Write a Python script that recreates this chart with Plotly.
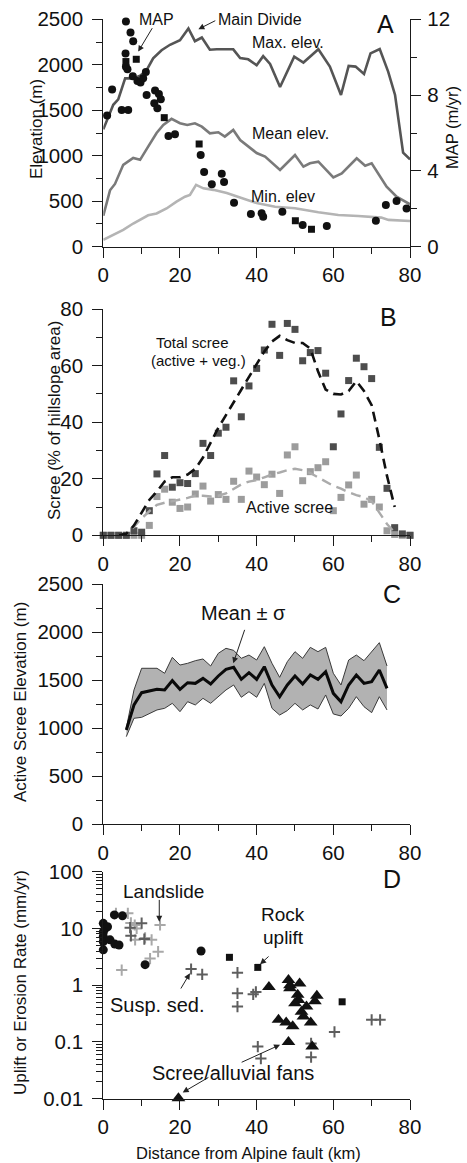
import plotly.graph_objects as go

FONT = "Liberation Sans, Arial, sans-serif"
W, H = 467, 1163

# ---------------- Panel A : elevation swath + MAP ----------------
max_x = [0, 2.6, 3.9, 5.7, 7.8, 9.6, 11.3, 13, 15.2, 17.4, 20, 22.2, 23.9, 25.7, 27.8, 29.6, 33.9, 35.7, 37.8,
         40, 41.7, 43.5, 46.1, 49.8, 52.2, 56.1, 59.1, 62, 64, 65.8, 68, 69.7, 72.1, 74.3, 76.1, 78.2, 80]
max_elev = [1290, 1560, 1620, 1850, 1850, 1880, 1940, 2070, 2160, 2220, 2270, 2400, 2260, 2300, 2165, 2170, 2170,
            2075, 2060, 1995, 2095, 2010, 1755, 2090, 2025, 2170, 1980, 1668, 1987, 1980, 1898, 2125, 2172, 1925,
            1668, 1035, 960]
mean_x = [0, 1.75, 3.05, 5.2, 7.8, 9.6, 11.7, 13.9, 15.65, 17.8, 20, 21.9, 23.9, 25.7, 27.8, 30, 31.7, 33.9, 35.7,
          37.8, 40, 42.2, 46.1, 50, 52.2, 53.9, 56.1, 60, 62.2, 66.1, 68.3, 70, 73.9, 76.5, 80]
mean_elev = [340, 620, 690, 900, 975, 955, 1100, 1250, 1338, 1405, 1357, 1338, 1357, 1320, 1247, 1258, 1210, 1283,
             1173, 1100, 1030, 990, 843, 1008, 880, 917, 935, 763, 807, 972, 891, 917, 660, 550, 466]
min_x = [0, 2.6, 5.2, 7.8, 10, 11.7, 13.9, 16.5, 19.1, 21.3, 22.6, 24.2, 26.1, 28.7, 32.2, 35.7, 40, 44.8, 50, 56.1,
         61.3, 66.5, 70, 72.5, 74.4, 80]
min_elev = [75, 130, 185, 255, 310, 345, 365, 420, 495, 550, 570, 680, 642, 625, 590, 540, 480, 440, 422, 378, 348,
            337, 323, 320, 295, 283]
map_circ_x = [5.9, 7.1, 7.8, 5.8, 5.9, 6.3, 7.7, 8.9, 9.7, 10.4, 11.1, 2.3, 1.0, 4.8, 6.5, 11.3, 13.5, 14.5, 15.0,
              13.3, 14.1, 17.0, 18.7, 25.4, 26.3, 28.3, 30.9, 31.5, 34.1, 38.5, 41.3, 41.7, 46.7, 52.0, 58.3, 71.1,
              73.7, 76.5, 79.1]
map_circ = [11.88, 11.31, 10.84, 10.2, 9.5, 9.36, 9.0, 8.75, 8.66, 8.89, 9.22, 8.3, 6.92, 7.21, 7.21, 8.0, 8.24,
            8.06, 7.78, 7.57, 7.3, 5.84, 5.93, 4.84, 3.94, 3.29, 3.85, 3.41, 2.32, 1.72, 1.76, 1.58, 1.85, 1.14, 1.09,
            1.37, 2.2, 2.41, 2.02]
map_sq_x = [5.9, 8.6, 15.9, 25.0, 50.1, 54.3]
map_sq = [9.77, 9.89, 6.81, 5.42, 1.37, 0.92]

# ---------------- Panel B : scree cover ----------------
scree_x = [0, 2, 4, 6, 8, 10, 12, 14, 16, 18, 20, 22, 24, 26, 28, 30, 32, 34, 36, 38, 40, 42, 44, 46, 48, 50, 52,
           54, 56, 58, 60, 62, 64, 66, 68, 70, 72, 74, 76, 78, 80]
total_scree = [0, 0, 0, 0, 1.6, 1.1, 8.7, 21.7, 28.2, 17.0, 18.6, 18.3, 21.8, 32.5, 28.2, 36.1, 38.2, 54.6, 41.9,
               52.8, 59.0, 65.5, 74.6, 63.6, 74.9, 72.8, 61.7, 64.6, 65.3, 57.3, 31.3, 42.9, 54.7, 62.6, 59.6, 55.4,
               31.1, 16.6, 2.7, 0.5, 0]
active_scree = [0, 0, 0, 0, 0, 0, 3.5, 13.7, 16.3, 11.7, 9.5, 10.0, 14.6, 17.4, 12.1, 14.4, 12.7, 19.1, 12.7, 22.7,
                20.6, 17.9, 21.6, 14.8, 28.4, 31.3, 19.3, 22.5, 23.9, 26.0, 8.7, 13.4, 17.8, 21.3, 11.0, 12.7, 10.0,
                1.6, 0.3, 0, 0]
smooth_x = [4, 6, 8, 10, 12, 14, 16, 18, 20, 22, 24, 26, 28, 30, 32, 34, 36, 38, 40, 42, 44, 46, 48, 50, 52, 54,
            56, 58, 60, 62, 64, 66, 68, 70, 72, 74, 76]
total_smooth = [0.1, 0.5, 3.5, 8, 12.5, 15.5, 19, 20.5, 20.5, 21.5, 23.5, 27.5, 33, 38, 42.5, 47, 51, 56, 60.5, 65,
                68.5, 70.5, 69, 68, 68, 66, 58, 51.5, 50, 49.8, 51, 54.5, 51, 46, 34, 21, 10]
active_smooth = [0, 0.5, 3, 6, 8.5, 10.8, 11.5, 12, 12.5, 13.2, 14, 14, 13.7, 14, 14.8, 16.5, 18, 19, 19.5, 20.5,
                 21.5, 22.2, 23, 23.5, 23, 22, 20.5, 19, 17.5, 16.5, 15.2, 14.2, 13.5, 12, 8, 4, 1]

# ---------------- Panel C : active scree elevation ----------------
c_x = [6, 8, 10, 12, 14, 16, 18, 20, 22, 24, 26, 28, 30, 32, 34, 36, 38, 40, 42, 44, 46, 48, 50, 52, 54, 56, 58,
       60, 62, 64, 66, 68, 70, 72, 74]
c_mean = [979, 1240, 1368, 1385, 1403, 1396, 1493, 1403, 1472, 1465, 1517, 1458, 1542, 1611, 1632, 1507, 1576, 1507,
          1639, 1448, 1326, 1448, 1542, 1458, 1552, 1507, 1587, 1361, 1274, 1448, 1552, 1465, 1483, 1604, 1413]
c_upper = [1000, 1396, 1622, 1622, 1622, 1570, 1736, 1656, 1674, 1701, 1719, 1646, 1778, 1830, 1809, 1726, 1760,
           1708, 1847, 1674, 1528, 1691, 1795, 1726, 1840, 1795, 1840, 1570, 1448, 1708, 1760, 1701, 1795, 1889, 1646]
c_lower = [910, 1101, 1111, 1146, 1188, 1205, 1257, 1170, 1274, 1240, 1309, 1257, 1326, 1396, 1448, 1320, 1378, 1320,
           1465, 1205, 1135, 1181, 1257, 1188, 1240, 1198, 1344, 1146, 1125, 1205, 1326, 1222, 1160, 1326, 1188]

# ---------------- Panel D : rates ----------------
d_circ_x = [0, 0.45, 1.1, 0, 0, 0, 0, 1.75, 3.0, 4.1, 2.9, 5.0, 10.9, 25.5]
d_circ = [12.3, 10, 10.7, 8.7, 7.2, 5.9, 4.2, 6.3, 5.3, 5.1, 17.3, 16.7, 2.3, 4.0]
d_sq_x = [32.9, 40.3, 62.3]
d_sq = [3.1, 2.06, 0.51]
d_land_x = [3.3, 6.4, 7.2, 8.2, 8.7, 8.3, 10.9, 12.6, 14.3, 14.8, 4.8, 12.2]
d_land = [18.5, 18.5, 12.5, 11.5, 10, 6.3, 6.8, 6.3, 3.9, 11.5, 1.85, 2.95]
d_sed_x = [7.0, 10.0, 7.2, 10.7, 22.9, 25.8, 35.0, 35.0, 35.0, 39.1, 39.8, 40.3, 41.1, 54.2, 54.2, 60.3, 70.0, 72.2]
d_sed = [10.3, 12.4, 7.4, 6.5, 1.93, 1.55, 1.66, 0.72, 0.42, 0.69, 0.76, 0.083, 0.051, 0.054, 0.094, 0.15, 0.245,
         0.245]
d_tri_x = [19.6, 43.2, 48.3, 48.7, 48.7, 51.2, 50.7, 50.9, 50.0, 55.7, 55.2, 53.0, 51.7, 52.2, 45.7, 47.7, 49.4,
           54.1, 48.3, 54.5]
d_tri = [0.0102, 0.93, 1.23, 1.0, 0.88, 1.07, 0.68, 0.55, 0.48, 0.65, 0.52, 0.42, 0.34, 0.28, 0.245, 0.22, 0.19,
         0.22, 0.1, 0.083]

# tick labels
elev_ticks = [0, 500, 1000, 1500, 2000, 2500]
elev_minor = [250, 750, 1250, 1750, 2250]
map_ticks = [0, 4, 8, 12]
map_minor = [2, 6, 10]
scree_ticks = [0, 20, 40, 60, 80]
scree_minor = [10, 30, 50, 70]
dist_ticks = [0, 20, 40, 60, 80]
dist_minor = [10, 30, 50, 70]
rate_ticks = [0.01, 0.1, 1, 10, 100]
rate_labels = ["0.01", "0.1", "1", "10", "100"]
rate_minor = [m * d for d in (0.01, 0.1, 1, 10) for m in range(2, 10)]

AX = "#1a1a1a"


def px_y(py):
    return 1 - py / H


def px_x(px):
    return px / W


XDOM = [px_x(103.3), px_x(410)]
DOM_A = [px_y(246.7), px_y(19.3)]
DOM_B = [px_y(535.3), px_y(309)]
DOM_C = [px_y(824), px_y(584)]
DOM_D = [px_y(1098.7), px_y(871.7)]

fig = go.Figure()

# Panel A
fig.add_trace(go.Scatter(x=min_x, y=min_elev, mode="lines", line=dict(color="#b4b4b4", width=2.6),
                         xaxis="x", yaxis="y"))
fig.add_trace(go.Scatter(x=mean_x, y=mean_elev, mode="lines", line=dict(color="#7a7a7a", width=2.6),
                         xaxis="x", yaxis="y"))
fig.add_trace(go.Scatter(x=max_x, y=max_elev, mode="lines", line=dict(color="#555555", width=2.6),
                         xaxis="x", yaxis="y"))
fig.add_trace(go.Scatter(x=map_circ_x, y=map_circ, mode="markers", cliponaxis=False,
                         marker=dict(symbol="circle", size=8, color="#111111"), xaxis="x", yaxis="y5"))
fig.add_trace(go.Scatter(x=map_sq_x, y=map_sq, mode="markers", cliponaxis=False,
                         marker=dict(symbol="square", size=7, color="#111111"), xaxis="x", yaxis="y5"))

# Panel B
fig.add_trace(go.Scatter(x=scree_x, y=active_scree, mode="markers", cliponaxis=False,
                         marker=dict(symbol="square", size=7, color="#9c9c9c"), xaxis="x2", yaxis="y2"))
fig.add_trace(go.Scatter(x=scree_x, y=total_scree, mode="markers", cliponaxis=False,
                         marker=dict(symbol="square", size=7, color="#4d4d4d"), xaxis="x2", yaxis="y2"))
fig.add_trace(go.Scatter(x=smooth_x, y=active_smooth, mode="lines", line=dict(color="#ababab", width=2.4,
                         dash="10px,6px"), xaxis="x2", yaxis="y2"))
fig.add_trace(go.Scatter(x=smooth_x, y=total_smooth, mode="lines", line=dict(color="#111111", width=2.6,
                         dash="10px,6px"), xaxis="x2", yaxis="y2"))

# Panel C
fig.add_trace(go.Scatter(x=c_x, y=c_lower, mode="lines", line=dict(color="#3a3a3a", width=1),
                         xaxis="x3", yaxis="y3"))
fig.add_trace(go.Scatter(x=c_x, y=c_upper, mode="lines", line=dict(color="#3a3a3a", width=1), fill="tonexty",
                         fillcolor="#b2b2b2", xaxis="x3", yaxis="y3"))
fig.add_trace(go.Scatter(x=c_x, y=c_mean, mode="lines", line=dict(color="#0a0a0a", width=3),
                         xaxis="x3", yaxis="y3"))

# Panel D
fig.add_trace(go.Scatter(x=d_land_x, y=d_land, mode="markers", cliponaxis=False,
                         marker=dict(symbol="cross-thin", size=8, color="#a8a8a8",
                                     line=dict(width=2, color="#a8a8a8")), xaxis="x4", yaxis="y4"))
fig.add_trace(go.Scatter(x=d_sed_x, y=d_sed, mode="markers", cliponaxis=False,
                         marker=dict(symbol="cross-thin", size=8, color="#5e5e5e",
                                     line=dict(width=2, color="#5e5e5e")), xaxis="x4", yaxis="y4"))
fig.add_trace(go.Scatter(x=d_circ_x, y=d_circ, mode="markers", cliponaxis=False,
                         marker=dict(symbol="circle", size=9, color="#111111"), xaxis="x4", yaxis="y4"))
fig.add_trace(go.Scatter(x=d_sq_x, y=d_sq, mode="markers", cliponaxis=False,
                         marker=dict(symbol="square", size=7, color="#111111"), xaxis="x4", yaxis="y4"))
fig.add_trace(go.Scatter(x=d_tri_x, y=d_tri, mode="markers", cliponaxis=False,
                         marker=dict(symbol="triangle-up", size=12, color="#111111"), xaxis="x4", yaxis="y4"))

TICKFONT = dict(family=FONT, size=20.5, color="#111")


def minor(vals):
    return dict(tickmode="array", tickvals=vals, ticks="outside", ticklen=6, tickwidth=1.2, tickcolor=AX,
                showgrid=False)


def xaxis_(**kw):
    base = dict(showline=True, linecolor=AX, linewidth=1.3, ticks="outside", ticklen=10, tickwidth=1.3,
                tickcolor=AX, showgrid=False, zeroline=False, tickfont=TICKFONT,
                tickmode="array", ticklabelstandoff=0, range=[0, 80], tickvals=dist_ticks,
                minor=minor(dist_minor))
    base.update(kw)
    return base


def yaxis_(**kw):
    base = dict(showline=True, linecolor=AX, linewidth=1.3, ticks="outside", ticklen=10, tickwidth=1.3,
                tickcolor=AX, showgrid=False, zeroline=False, tickfont=TICKFONT,
                tickmode="array", ticklabelstandoff=5)
    base.update(kw)
    return base


fig.update_layout(
    width=W, height=H, margin=dict(l=0, r=0, t=0, b=0, autoexpand=False),
    paper_bgcolor="white", plot_bgcolor="white", showlegend=False,
    font=dict(family=FONT, color="#111"),
    xaxis=xaxis_(domain=XDOM, anchor="y"),
    yaxis=yaxis_(domain=DOM_A, anchor="x", range=[0, 2500], tickvals=elev_ticks, minor=minor(elev_minor)),
    yaxis5=yaxis_(overlaying="y", side="right", anchor="x", range=[0, 12], tickvals=map_ticks,
                  minor=minor(map_minor), ticklabelstandoff=2),
    xaxis2=xaxis_(domain=XDOM, anchor="y2"),
    yaxis2=yaxis_(domain=DOM_B, anchor="x2", range=[0, 80], tickvals=scree_ticks, minor=minor(scree_minor)),
    xaxis3=xaxis_(domain=XDOM, anchor="y3"),
    yaxis3=yaxis_(domain=DOM_C, anchor="x3", range=[0, 2500], tickvals=elev_ticks, minor=minor(elev_minor)),
    xaxis4=xaxis_(domain=XDOM, anchor="y4"),
    yaxis4=yaxis_(domain=DOM_D, anchor="x4", type="log", range=[-2, 2], tickvals=rate_ticks,
                  ticktext=rate_labels, minor=minor(rate_minor)),
)

ann = []


def text(px, py, s, size=16, **kw):
    d = dict(x=px_x(px), y=px_y(py), xref="paper", yref="paper", text=s, showarrow=False,
             font=dict(family=FONT, size=size, color="#111"), xanchor="center", yanchor="middle")
    d.update(kw)
    ann.append(d)


def arrow(xr, yr, x0, y0, x1, y1):
    ann.append(dict(x=x1, y=y1, ax=x0, ay=y0, xref=xr, yref=yr, axref=xr, ayref=yr, text="", showarrow=True,
                    arrowhead=2, arrowsize=1.2, arrowwidth=1, arrowcolor="#222"))


# axis titles
text(36, 129, "Elevation (m)", 17, textangle=-90)
text(452, 128, "MAP (m/yr)", 16.5, textangle=-90)
text(54, 421, "Scree (% of hillslope area)", 17, textangle=-90)
text(20, 702, "Active Scree Elevation (m)", 17, textangle=-90)
text(20, 983, "Uplift or Erosion Rate (mm/yr)", 17, textangle=-90)
text(248, 1153, "Distance from Alpine fault (km)", 16.5)

# panel letters
text(385, 24, "A", 25)
text(388, 317, "B", 25)
text(392, 594, "C", 25)
text(392, 879, "D", 25)

# panel A labels
text(156, 20, "MAP", 16)
arrow("x", "y", 13.0, 2419, 9.1, 2145)
text(260, 20, "Main Divide", 16)
arrow("x", "y", 29.6, 2493, 24.8, 2391)
text(288, 43, "Max. elev.", 16)
text(290, 133, "Mean elev.", 16)
text(283, 197, "Min. elev", 16)

# panel B labels
text(192, 342, "Total scree", 15)
text(198, 361, "(active + veg.)", 15)
text(289, 507, "Active scree", 16)

# panel C labels
text(244, 613, "Mean \u00b1 \u03c3", 20)
arrow("x3", "y3", 37.0, 2038, 33.9, 1674)

# panel D labels
text(163, 891, "Landslide", 19)
arrow("x4", "y4", 14.6, 1.53, 14.6, 1.12)
text(283, 914, "Rock", 19)
text(283, 937, "uplift", 19)
arrow("x4", "y4", 43.5, 0.53, 40.9, 0.37)
text(157, 1005, "Susp. sed.", 20)
arrow("x4", "y4", 20.0, -0.085, 22.6, 0.21)
text(233, 1073, "Scree/alluvial fans", 20)
arrow("x4", "y4", 35.7, -1.37, 46.1, -1.05)
arrow("x4", "y4", 27.8, -1.61, 20.7, -1.89)

fig.update_layout(annotations=ann)
fig.write_html("out.html", config={"displayModeBar": False},
               post_script="document.body.style.margin='0px';document.body.style.overflow='hidden';")
